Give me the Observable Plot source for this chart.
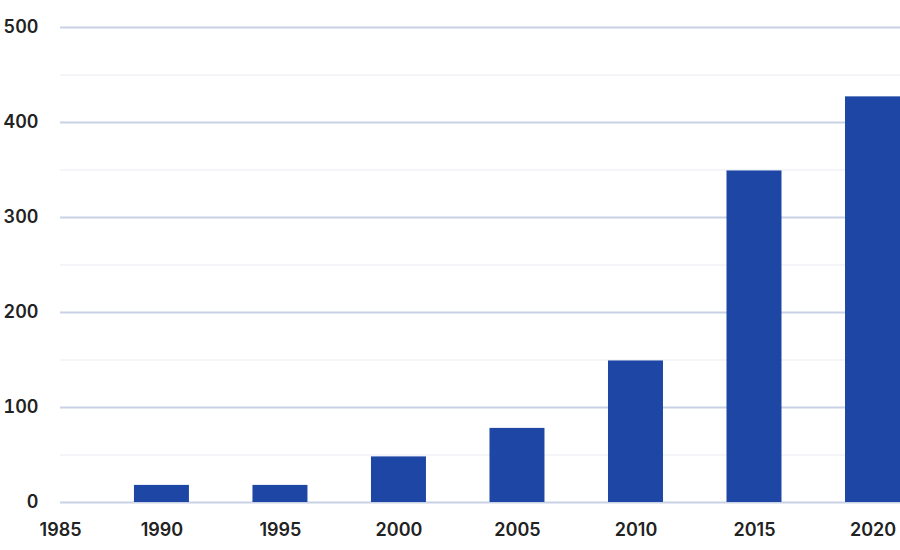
<!DOCTYPE html>
<html>
<head>
<meta charset="utf-8">
<script src="https://cdn.jsdelivr.net/npm/d3@7"></script>
<script src="https://cdn.jsdelivr.net/npm/@observablehq/plot@0.6"></script>
<style>
  html, body { margin: 0; padding: 0; background: #fff; }
  #chart svg { display: block; }
</style>
</head>
<body>
<div id="chart"></div>
<script>
const years = ["1990", "1995", "2000", "2005", "2010", "2015", "2020"];
const values = [18, 18, 48, 78, 149, 349, 427];
const extraXLabels = ["1985"];
const majorTicks = [0, 100, 200, 300, 400, 500];
const minorTicks = [50, 150, 250, 350, 450];

const data = years.map((y, i) => ({year: y, value: values[i]}));

const font = "Inter, 'Open Sans', sans-serif";
const fs = 18;

const chart = Plot.plot({
  width: 900,
  height: 550,
  marginLeft: 60,
  marginRight: 0,
  marginTop: 27,
  marginBottom: 48,
  style: {fontFamily: font, background: "#fff"},
  x: {
    type: "band",
    domain: years,
    paddingInner: 0.536,
    paddingOuter: 0.312,
    align: 1,
    round: false
  },
  y: {domain: [0, 500]},
  marks: [
    Plot.ruleY(minorTicks, {stroke: "#f3f5f8", strokeWidth: 2}),
    Plot.ruleY(majorTicks, {stroke: "#c9d1e5", strokeWidth: 2}),
    Plot.barY(data, {x: "year", y: "value", fill: "#1e47a5"}),
    Plot.axisY({
      ticks: majorTicks,
      tickSize: 0,
      tickPadding: 22,
      fontSize: fs,
      fontWeight: 600,
      fill: "#222",
      label: null
    }),
    Plot.axisX({
      tickSize: 0,
      tickPadding: 21,
      fontSize: fs,
      fontWeight: 600,
      fill: "#222",
      label: null
    }),
    Plot.text(extraXLabels, {
      text: d => d,
      frameAnchor: "bottom-left",
      textAnchor: "middle",
      lineAnchor: "top",
      dy: 21,
      fontSize: fs,
      fontWeight: 600,
      fill: "#222"
    })
  ]
});

document.getElementById("chart").appendChild(chart);
</script>
</body>
</html>
